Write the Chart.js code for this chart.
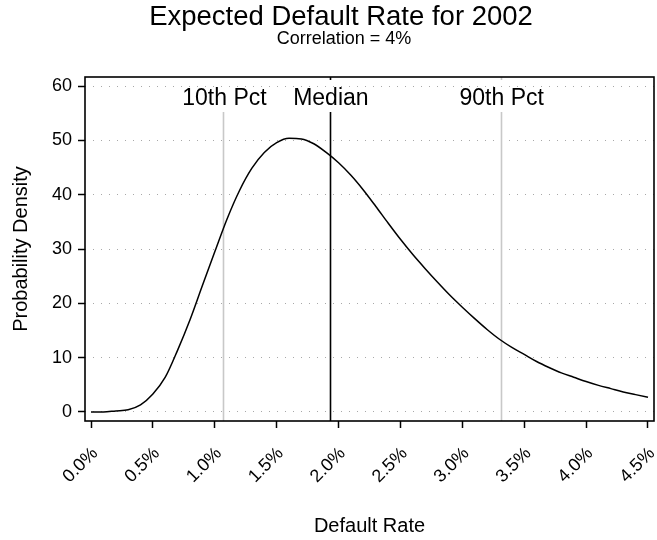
<!DOCTYPE html>
<html>
<head>
<meta charset="utf-8">
<title>Expected Default Rate for 2002</title>
<script src="https://cdn.jsdelivr.net/npm/chart.js@4/dist/chart.umd.min.js"></script>
<style>
  html, body { margin: 0; padding: 0; background: #fff; }
</style>
</head>
<body>
<canvas id="chart" width="657" height="540"></canvas>
<script>
// Texts
const titleText = 'Expected Default Rate for 2002';
const subtitleText = 'Correlation = 4%';
const xTitle = 'Default Rate';
const yTitle = 'Probability Density';

// Density curve (default rate in %, density)
const rateX = [0.0, 0.1, 0.2, 0.3, 0.4, 0.5, 0.6, 0.7, 0.8, 0.9,
  1.0, 1.1, 1.2, 1.3, 1.4, 1.5, 1.6, 1.7, 1.8, 1.9,
  2.0, 2.1, 2.2, 2.3, 2.4, 2.5, 2.6, 2.7, 2.8, 2.9,
  3.0, 3.1, 3.2, 3.3, 3.4, 3.5, 3.6, 3.7, 3.8, 3.9,
  4.0, 4.1, 4.2, 4.3, 4.4, 4.5];
const densityY = [0.0, 0.0, 0.2, 0.4, 1.3, 3.3, 6.4, 11.4, 17.0, 23.3,
  29.5, 35.6, 40.8, 44.9, 47.8, 49.6, 50.4, 50.3, 49.4, 47.8,
  45.9, 43.6, 40.9, 37.9, 34.8, 31.8, 29.0, 26.4, 23.9, 21.5,
  19.3, 17.2, 15.2, 13.4, 11.9, 10.6, 9.3, 8.2, 7.2, 6.4,
  5.6, 4.9, 4.3, 3.7, 3.2, 2.7];

// Tick labels
const xTicks = [0, 0.5, 1.0, 1.5, 2.0, 2.5, 3.0, 3.5, 4.0, 4.5];
const yTicks = [0, 10, 20, 30, 40, 50, 60];

// Percentile markers
const pctValues = [1.07, 1.93, 3.31];
const pctLabels = ['10th Pct', 'Median', '90th Pct'];

const FONT = '"Liberation Sans", Arial, Helvetica, sans-serif';

// vertical percentile lines, plot frame and titles
const markers = {
  id: 'markers',
  beforeDatasetsDraw(chart) {
    const { ctx, chartArea, scales } = chart;
    const colors = ['#c8c8c8', '#000000', '#c8c8c8'];
    ctx.save();
    ctx.lineWidth = 1.6;
    pctValues.forEach((v, i) => {
      const x = Math.round(scales.x.getPixelForValue(v)) + 0.5;
      ctx.strokeStyle = colors[i];
      ctx.beginPath();
      ctx.moveTo(x, chartArea.top + 35);
      ctx.lineTo(x, chartArea.bottom);
      ctx.stroke();
      if (i > 0) {
        ctx.beginPath();
        ctx.moveTo(x, chartArea.top);
        ctx.lineTo(x, chartArea.top + 3);
        ctx.stroke();
      }
    });
    ctx.restore();
  },
  afterDraw(chart) {
    const { ctx, chartArea, scales } = chart;
    ctx.save();
    // frame
    ctx.strokeStyle = '#000';
    ctx.lineWidth = 1.6;
    ctx.strokeRect(chartArea.left, chartArea.top,
      chartArea.right - chartArea.left, chartArea.bottom - chartArea.top);

    // percentile labels
    ctx.fillStyle = '#000';
    ctx.textAlign = 'center';
    ctx.textBaseline = 'alphabetic';
    ctx.font = '23px ' + FONT;
    pctValues.forEach((v, i) => {
      ctx.fillText(pctLabels[i], scales.x.getPixelForValue(v) + 1, chartArea.top + 28);
    });

    // title + subtitle
    ctx.font = '27.5px ' + FONT;
    ctx.fillText(titleText, 341, 25);
    ctx.font = '18px ' + FONT;
    ctx.fillText(subtitleText, 344, 44);
    ctx.restore();
  }
};

new Chart(document.getElementById('chart'), {
  type: 'scatter',
  data: {
    datasets: [{
      data: rateX.map((x, i) => ({ x: x, y: densityY[i] })),
      showLine: true,
      borderColor: '#000',
      borderWidth: 1.5,
      pointRadius: 0,
      cubicInterpolationMode: 'monotone',
      fill: false
    }]
  },
  options: {
    responsive: false,
    animation: false,
    layout: { padding: { top: 77, right: 3, left: 0, bottom: 0 } },
    plugins: {
      legend: { display: false },
      tooltip: { enabled: false }
    },
    scales: {
      x: {
        type: 'linear',
        min: -0.0485,
        max: 4.5485,
        afterBuildTicks: s => { s.ticks = xTicks.map(v => ({ value: v })); },
        afterFit: s => { s.height = 119; s.paddingLeft = 0; s.paddingRight = 0; },
        grid: {
          drawOnChartArea: false,
          drawTicks: true,
          tickLength: 7,
          tickColor: '#000',
          tickWidth: 1.5
        },
        border: { display: false },
        ticks: {
          color: '#000',
          font: { family: FONT, size: 18 },
          maxRotation: 45,
          minRotation: 45,
          padding: 15,
          labelOffset: 4,
          callback: v => v.toFixed(1) + '%'
        },
        title: {
          display: true,
          text: xTitle,
          color: '#000',
          font: { family: FONT, size: 20 },
          padding: { top: 0, bottom: 2 }
        }
      },
      y: {
        min: -1.66,
        max: 61.7,
        afterBuildTicks: s => { s.ticks = yTicks.map(v => ({ value: v })); },
        afterFit: s => { s.width = 85; s.paddingTop = 0; s.paddingBottom = 0; },
        grid: {
          color: '#a8a8a8',
          lineWidth: 1,
          drawTicks: true,
          tickLength: 7,
          tickColor: '#000',
          tickWidth: 1.5,
          tickBorderDash: []
        },
        border: { display: false, dash: [1, 7] },
        ticks: {
          color: '#000',
          font: { family: FONT, size: 18 },
          padding: 6
        },
        title: {
          display: true,
          text: yTitle,
          color: '#000',
          font: { family: FONT, size: 20 },
          padding: { top: 9, bottom: 0 }
        }
      }
    }
  },
  plugins: [markers]
});
</script>
</body>
</html>
